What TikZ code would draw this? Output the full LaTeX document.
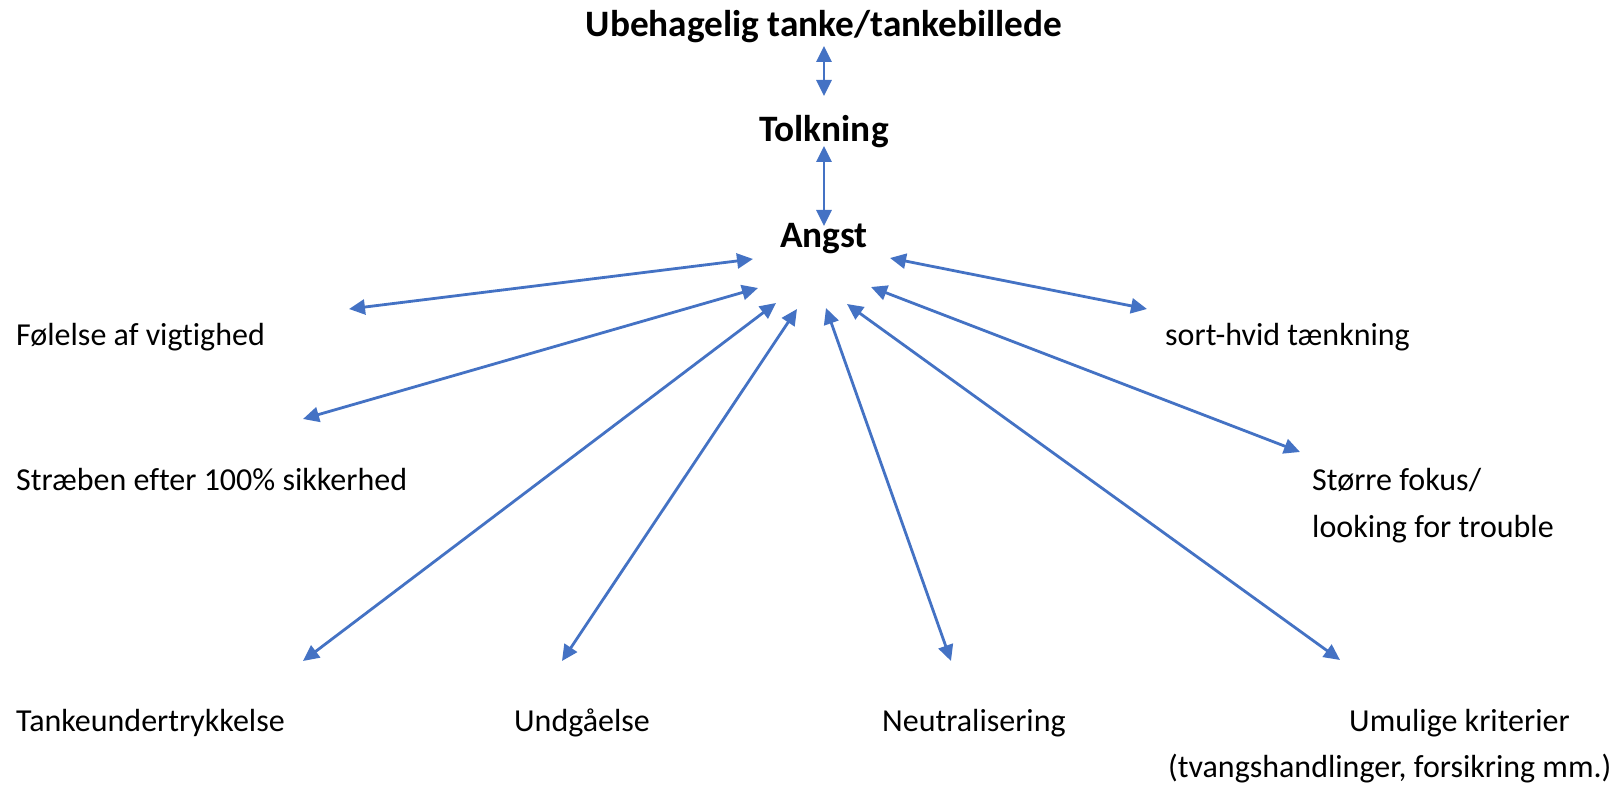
\documentclass[tikz,border=0pt]{standalone}
\usepackage{fontspec}
\setmainfont[Ligatures={NoCommon,NoContextual}]{Carlito}
\usetikzlibrary{arrows.meta}
\definecolor{linkblue}{HTML}{4472C4}
\begin{document}
\begin{tikzpicture}[x=1pt,y=-1pt,
  lbl/.style={inner sep=0pt,anchor=base west,font=\fontsize{32}{40}\selectfont},
  hdr/.style={inner sep=0pt,anchor=base,font=\fontsize{37.3}{44}\selectfont\bfseries},
  link/.style={draw=linkblue,line width=2.8pt,
    {Triangle[length=16pt,width=15pt,fill=linkblue]}-{Triangle[length=16pt,width=15pt,fill=linkblue]}}]
\useasboundingbox[fill=white] (0,0) rectangle (1623,786);
% headings
\node[hdr] (ubeh) at (824,37) {Ubehagelig tanke/tankebillede};
\node[hdr] (tolk) at (824,142) {Tolkning};
\node[hdr] (angst) at (824,248) {Angst};
% labels
\node[lbl] (folelse) at (16,345) {Følelse af vigt\kern0pt ighed};
\node[lbl] (straeben) at (16,490) {Stræben ef\kern0pt ter 100\% sikkerhed};
\node[lbl] (tanke) at (16,731) {Tankeundertrykkelse};
\node[lbl] (undg) at (514,731) {Undgåelse};
\node[lbl] (neutr) at (882,731) {Neutralisering};
\node[lbl] (umul1) at (1349,731) {Umulige kriterier};
\node[lbl] (umul2) at (1168,777) {(tvangshandlinger, forsikring mm.)};
\node[lbl] (storre1) at (1312,490) {Større fokus/};
\node[lbl] (storre2) at (1312,537) {looking for trouble};
\node[lbl] (sorth) at (1165,345) {sort-hvid tænkning};
% connector ends
\coordinate (u1) at (824,46);  \coordinate (u2) at (824,96);
\coordinate (t1) at (824,146); \coordinate (t2) at (824,226);
\coordinate (a1) at (753,259); \coordinate (f1) at (349,309);
\coordinate (a2) at (758,288); \coordinate (s1) at (303,419);
\coordinate (a3) at (776,303); \coordinate (k1) at (303,661);
\coordinate (a4) at (797,309); \coordinate (g1) at (562,661);
\coordinate (a5) at (826,308); \coordinate (n1) at (951,661);
\coordinate (a6) at (847,304); \coordinate (m1) at (1340,660);
\coordinate (a7) at (871,287); \coordinate (r1) at (1300,452);
\coordinate (a8) at (890,258); \coordinate (h1) at (1147,309);
% connectors
\draw[link] (u1) -- (u2);
\draw[link] (t1) -- (t2);
\draw[link] (a1) -- (f1);
\draw[link] (a2) -- (s1);
\draw[link] (a3) -- (k1);
\draw[link] (a4) -- (g1);
\draw[link] (a5) -- (n1);
\draw[link] (a6) -- (m1);
\draw[link] (a7) -- (r1);
\draw[link] (a8) -- (h1);
\end{tikzpicture}
\end{document}
